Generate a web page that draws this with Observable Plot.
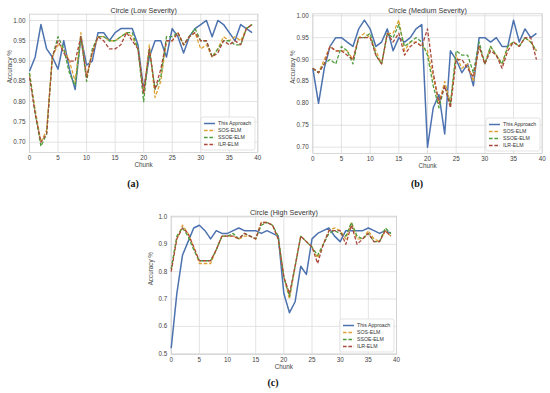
<!DOCTYPE html>
<html>
<head>
<meta charset="utf-8">
<script src="https://cdn.jsdelivr.net/npm/d3@7"></script>
<script src="https://cdn.jsdelivr.net/npm/@observablehq/plot@0.6"></script>
<style>
  html, body { margin: 0; padding: 0; background: #fff; }
  #root { position: relative; width: 550px; height: 393px; overflow: hidden; font-family: "Liberation Sans", Arial, sans-serif; }
  .panel { position: absolute; }
  .caption { position: absolute; font-family: "Liberation Serif", "DejaVu Serif", serif; font-weight: bold; font-size: 10px; color: #111; transform: translate(-50%, -50%); white-space: nowrap; }
  .legend { position: absolute; }
</style>
</head>
<body>
<div id="root"></div>
<script>
// ---------------- data ----------------
const seriesNames = ["This Approach", "SOS-ELM", "SSOE-ELM", "ILR-ELM"];
const panelTitles = ["Circle (Low Severity)", "Circle (Medium Severity)", "Circle (High Severity)"];
const panelCaptions = ["(a)", "(b)", "(c)"];
const xTicks = [0, 5, 10, 15, 20, 25, 30, 35, 40];
const yTicksLowMed = [0.70, 0.75, 0.80, 0.85, 0.90, 0.95, 1.00];
const yTicksHigh = [0.5, 0.6, 0.7, 0.8, 0.9, 1.0];

// Low severity
const lowThis = [0.875,0.91,0.99,0.93,0.91,0.88,0.95,0.88,0.83,0.96,0.89,0.90,0.97,0.97,0.95,0.97,0.98,0.98,0.98,0.94,0.83,0.91,0.95,0.95,0.91,0.98,0.96,0.92,0.96,0.98,0.99,1.00,0.96,1.00,0.99,0.97,0.95,0.99,0.98,0.97];
const lowSOS  = [0.87,0.78,0.70,0.73,0.91,0.94,0.93,0.90,0.85,0.97,0.86,0.92,0.96,0.96,0.95,0.95,0.96,0.97,0.96,0.93,0.82,0.94,0.81,0.85,0.95,0.95,0.97,0.94,0.96,0.97,0.93,0.94,0.91,0.93,0.96,0.95,0.96,0.95,0.98,0.99];
const lowSSOE = [0.87,0.77,0.69,0.72,0.91,0.96,0.93,0.87,0.84,0.96,0.85,0.93,0.96,0.96,0.95,0.95,0.96,0.97,0.97,0.93,0.80,0.93,0.83,0.86,0.96,0.96,0.97,0.94,0.96,0.98,0.95,0.95,0.91,0.93,0.95,0.95,0.94,0.94,0.98,0.99];
const lowILR  = [0.86,0.77,0.70,0.72,0.91,0.95,0.92,0.90,0.90,0.96,0.86,0.92,0.96,0.95,0.93,0.93,0.94,0.97,0.95,0.93,0.82,0.93,0.83,0.88,0.95,0.95,0.97,0.94,0.96,0.97,0.95,0.95,0.91,0.92,0.95,0.94,0.95,0.94,0.98,0.99];

// Medium severity
const medThis = [0.88,0.80,0.88,0.93,0.95,0.95,0.94,0.93,0.97,0.99,0.97,0.93,0.94,0.97,0.92,0.95,0.94,0.95,0.97,0.98,0.70,0.79,0.82,0.73,0.92,0.90,0.87,0.89,0.84,0.95,0.95,0.94,0.95,0.93,0.93,0.99,0.94,0.97,0.95,0.96];
const medSOS  = [0.88,0.87,0.90,0.93,0.92,0.92,0.92,0.90,0.95,0.96,0.95,0.92,0.89,0.96,0.96,0.99,0.92,0.94,0.94,0.93,0.92,0.86,0.80,0.85,0.80,0.91,0.88,0.89,0.85,0.93,0.89,0.93,0.91,0.89,0.93,0.94,0.93,0.95,0.94,0.92];
const medSSOE = [0.88,0.87,0.89,0.90,0.89,0.93,0.92,0.89,0.95,0.95,0.96,0.91,0.89,0.96,0.95,0.98,0.93,0.94,0.95,0.94,0.91,0.84,0.79,0.84,0.80,0.92,0.91,0.91,0.87,0.94,0.89,0.93,0.91,0.89,0.93,0.94,0.93,0.95,0.94,0.92];
const medILR  = [0.88,0.87,0.89,0.93,0.92,0.92,0.91,0.90,0.95,0.95,0.95,0.91,0.89,0.96,0.94,0.96,0.91,0.93,0.94,0.93,0.97,0.87,0.80,0.84,0.79,0.90,0.90,0.88,0.86,0.93,0.89,0.92,0.91,0.88,0.92,0.94,0.93,0.95,0.95,0.90];

// High severity
const highThis = [0.52,0.72,0.86,0.91,0.96,0.97,0.95,0.92,0.95,0.94,0.94,0.95,0.96,0.95,0.95,0.95,0.94,0.95,0.94,0.93,0.72,0.65,0.69,0.82,0.79,0.92,0.94,0.95,0.96,0.93,0.91,0.95,0.95,0.95,0.95,0.96,0.95,0.94,0.95,0.94];
const highSOS  = [0.81,0.92,0.97,0.94,0.89,0.83,0.83,0.83,0.88,0.93,0.93,0.93,0.92,0.93,0.93,0.92,0.98,0.98,0.97,0.92,0.78,0.70,0.82,0.93,0.91,0.89,0.85,0.90,0.95,0.96,0.95,0.92,0.98,0.92,0.92,0.95,0.92,0.91,0.95,0.93];
const highSSOE = [0.81,0.93,0.96,0.93,0.88,0.84,0.84,0.84,0.88,0.93,0.93,0.94,0.92,0.94,0.93,0.92,0.97,0.98,0.97,0.93,0.78,0.71,0.82,0.93,0.91,0.89,0.86,0.90,0.94,0.95,0.94,0.93,0.98,0.93,0.92,0.94,0.91,0.91,0.96,0.94];
const highILR  = [0.80,0.92,0.96,0.94,0.89,0.84,0.84,0.84,0.88,0.93,0.93,0.93,0.92,0.94,0.93,0.92,0.98,0.98,0.97,0.92,0.78,0.72,0.82,0.93,0.91,0.89,0.83,0.90,0.95,0.95,0.95,0.90,0.97,0.90,0.92,0.94,0.91,0.91,0.95,0.93];

// ---------------- styles ----------------
const colors = ["#4c72b0", "#dea234", "#4f9d3e", "#a9483c"];
const dashes = [null, "3.6,1.8", "3.6,1.8", "3.6,1.8"];
const widths = [1.5, 1.3, 1.3, 1.3];

const panels = [
  { series: [lowThis, lowSOS, lowSSOE, lowILR], yTicks: yTicksLowMed, yFormat: ".2f", yDomain: [0.6745, 1.0155],
    left: 0, top: 0, width: 275, height: 175, m: {top: 13.7, right: 17.7, bottom: 23, left: 29}, capX: 133, capY: 183 },
  { series: [medThis, medSOS, medSSOE, medILR], yTicks: yTicksLowMed, yFormat: ".2f", yDomain: [0.6855, 1.0045],
    left: 275, top: 0, width: 275, height: 175, m: {top: 13.3, right: 8.3, bottom: 22, left: 37.3}, capX: 417, capY: 183 },
  { series: [highThis, highSOS, highSSOE, highILR], yTicks: yTicksHigh, yFormat: ".1f", yDomain: [0.497, 1.003],
    left: 130, top: 200, width: 280, height: 175, m: {top: 15.7, right: 14, bottom: 21, left: 40.7}, capX: 273, capY: 382 }
];

const root = document.getElementById("root");

panels.forEach((p, pi) => {
  const lineMarks = p.series.map((vals, si) =>
    Plot.line(vals, {
      x: (d, i) => i, y: d => d,
      stroke: colors[si], strokeWidth: widths[si],
      strokeDasharray: dashes[si] || undefined,
      strokeLinejoin: "round", strokeLinecap: "butt"
    })
  );
  const chart = Plot.plot({
    width: p.width, height: p.height,
    marginTop: p.m.top, marginRight: p.m.right, marginBottom: p.m.bottom, marginLeft: p.m.left,
    style: { fontFamily: "Liberation Sans, Arial, sans-serif", fontSize: "6.3px", color: "#444", background: "transparent", overflow: "visible" },
    x: { domain: [0, 40] },
    y: { domain: p.yDomain },
    marks: [
      Plot.gridX(xTicks, { stroke: "#dcdcdc", strokeOpacity: 1, strokeWidth: 0.8 }),
      Plot.gridY(p.yTicks, { stroke: "#dcdcdc", strokeOpacity: 1, strokeWidth: 0.8 }),
      Plot.frame({ stroke: "#cfcfcf", strokeWidth: 0.8 }),
      Plot.axisX(xTicks, { tickSize: 0, tickPadding: 3, label: null, fill: "#444" }),
      Plot.axisY(p.yTicks, { tickSize: 0, tickPadding: 4, tickFormat: d3.format(p.yFormat), label: null, fill: "#444" }),
      ...lineMarks,
      Plot.text([panelTitles[pi]], { frameAnchor: "top", dy: -6, fontSize: 7.2, fill: "#333" }),
      Plot.text(["Chunk"], { frameAnchor: "bottom", dy: 14, fontSize: 6.3, fill: "#444" }),
      Plot.text(["Accuracy %"], { frameAnchor: "left", dx: -20, rotate: -90, fontSize: 6.3, fill: "#444" })
    ]
  });
  const wrap = document.createElement("div");
  wrap.className = "panel";
  wrap.style.left = p.left + "px";
  wrap.style.top = p.top + "px";
  wrap.appendChild(chart);
  root.appendChild(wrap);

  // legend (inside the frame, lower right)
  const frameRight = p.left + p.width - p.m.right;
  const frameBottom = p.top + p.height - p.m.bottom;
  const lw = 54, lh = 33;
  const lx = frameRight - 2 - lw, ly = frameBottom - 2 - lh;
  const svg = d3.create("svg").attr("class", "legend").attr("width", lw + 2).attr("height", lh + 2)
    .style("left", (lx - 1) + "px").style("top", (ly - 1) + "px");
  svg.append("rect").attr("x", 1).attr("y", 1).attr("width", lw).attr("height", lh)
    .attr("rx", 2).attr("fill", "#fff").attr("fill-opacity", 0.85).attr("stroke", "#d8d8d8").attr("stroke-width", 0.7);
  seriesNames.forEach((name, si) => {
    const yy = 1 + 6.5 + si * 7;
    svg.append("line").attr("x1", 4).attr("x2", 15).attr("y1", yy).attr("y2", yy)
      .attr("stroke", colors[si]).attr("stroke-width", widths[si])
      .attr("stroke-dasharray", dashes[si] || null);
    svg.append("text").attr("x", 18).attr("y", yy).attr("dy", "0.35em")
      .attr("font-size", 5.2).attr("fill", "#333")
      .attr("font-family", "Liberation Sans, Arial, sans-serif").text(name);
  });
  root.appendChild(svg.node());

  const cap = document.createElement("div");
  cap.className = "caption";
  cap.style.left = p.capX + "px";
  cap.style.top = p.capY + "px";
  cap.textContent = panelCaptions[pi];
  root.appendChild(cap);
});
</script>
</body>
</html>
